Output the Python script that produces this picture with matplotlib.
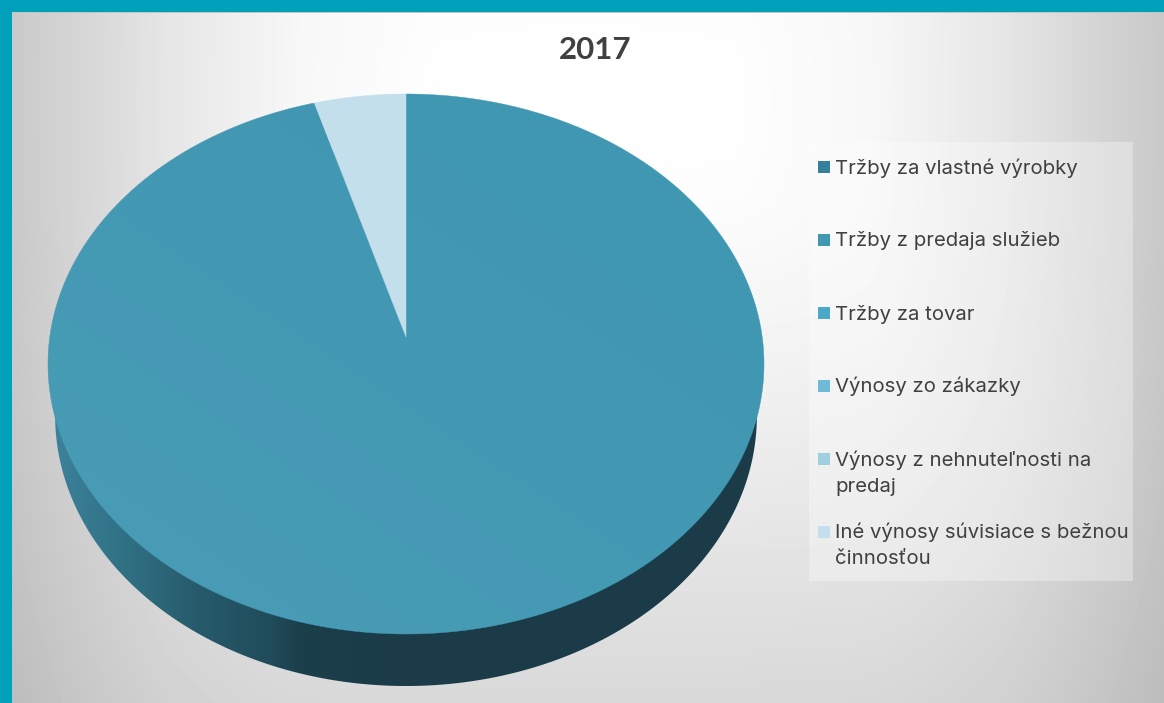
import numpy as np
import matplotlib
matplotlib.use("Agg")
import matplotlib.pyplot as plt
from matplotlib.patches import Polygon, Rectangle

title = "2017"
categories = ["Tržby za vlastné výrobky", "Tržby z predaja služieb", "Tržby za tovar",
              "Výnosy zo zákazky", "Výnosy z nehnuteľnosti na\npredaj",
              "Iné výnosy súvisiace s bežnou\nčinnosťou"]
values = [0.0, 95.45, 0.0, 0.0, 0.0, 4.55]
colors = ["#35809a", "#4097b2", "#4aa9c8", "#6fbbd5", "#9fcfe0", "#c4dfec"]

W, H = 1164, 703
fig = plt.figure(figsize=(W / 100, H / 100), dpi=100)
ax = fig.add_axes([0, 0, 1, 1])
ax.set_xlim(0, W)
ax.set_ylim(H, 0)
ax.axis("off")

# page background: soft gradient, lightest near the top centre
yy, xx = np.mgrid[0:H, 0:W]
fh = np.interp(np.abs(xx - 585.0), [0, 150, 285, 420, 585], [0, 0.005, 0.03, 0.10, 0.22])
fv = np.interp(np.abs(yy - 100.0), [0, 100, 300, 600], [0, 0.01, 0.06, 0.15])
g = 1.0 - np.hypot(fh, fv)
ax.imshow(g, extent=(0, W, H, 0), cmap="gray", vmin=0, vmax=1, aspect="auto", zorder=0)

# frame
ax.add_patch(Rectangle((0, 0), W, 13, color="#c4c4c4", lw=0, zorder=1))
ax.add_patch(Rectangle((0, 0), W, 12, color="#009fba", lw=0, zorder=1))
ax.add_patch(Rectangle((0, 0), 12, H, color="#009fba", lw=0, zorder=1))

# perspective pie geometry
cx, cy = 406.0, 337.0
c, k, m = 0.1, 267.3, 356.2


def project(theta, dy=0.0, scale=1.0):
    s, co = np.sin(theta), np.cos(theta)
    den = 1 + c * co
    return cx + scale * m * s / den, cy - k * co / den + dy


# side wall
th = np.linspace(0, 2 * np.pi, 720)
sx, sy = project(th, dy=52, scale=0.98)
side = Polygon(np.c_[sx, sy], closed=True, fc="none", ec="none", zorder=2)
ax.add_patch(side)
xs = np.array([0.0, 55, 130, 200, 270, 300, 400, 800])
ls = np.array([[0x40, 0x88, 0xa0], [0x3c, 0x82, 0x9a], [0x2f, 0x6f, 0x82],
               [0x26, 0x5a, 0x6a], [0x20, 0x4c, 0x5b], [0x1b, 0x3f, 0x4b],
               [0x1a, 0x3b, 0x47], [0x1a, 0x3b, 0x47]]) / 255.0
grad = np.stack([np.interp(np.arange(W), xs, ls[:, i]) for i in range(3)], axis=1)[None, :, :]
im = ax.imshow(grad, extent=(0, W, H, 0), aspect="auto", zorder=2)
im.set_clip_path(side)

# top face wedges built from the values
total = sum(values)
start = 0.0
for v, col in zip(values, colors):
    if v > 0:
        a = np.linspace(start, start + v / total * 2 * np.pi, 600)
        px, py = project(a)
        pts = np.r_[[[cx, cy]], np.c_[px, py]]
        ax.add_patch(Polygon(pts, closed=True, fc=col, ec=col, lw=0.3, zorder=3))
    start += v / total * 2 * np.pi

# faint light toward the lower left of the face
fx, fy = project(th)
face = Polygon(np.c_[fx, fy], closed=True, fc="none", ec="none", zorder=3.1)
ax.add_patch(face)
t = np.clip(((700 - xx) / 650.0 + (yy - 200) / 430.0) / 2, 0, 1)
ov = np.dstack([np.ones_like(t), np.ones_like(t), np.ones_like(t), 0.05 * t])
oim = ax.imshow(ov, extent=(0, W, H, 0), aspect="auto", zorder=3.1)
oim.set_clip_path(face)

# legend
ax.add_patch(Rectangle((809, 142), 324, 439, fc="white", alpha=0.32, lw=0, zorder=4))
baselines = [173.5, 246.5, 319.5, 392.5, 465.5, 538.5]
swatches = [167, 240, 313, 386, 459, 532]
txt = "#404040"
for lab, col, b, sw in zip(categories, colors, baselines, swatches):
    ax.add_patch(Rectangle((818, sw - 6), 12, 12, fc=col, lw=0, zorder=5))
    for i, line in enumerate(lab.split("\n")):
        ax.text(835, b + 26 * i, line, fontsize=14.65, family="Inter", color=txt,
                va="baseline", ha="left", zorder=6)

ax.text(595, 59, title, fontsize=22.5, family="Lato", weight="bold", color="#404040",
        ha="center", va="baseline", zorder=6)

ax.set_xlim(0, W)
ax.set_ylim(H, 0)
fig.savefig("out.png", dpi=100)
